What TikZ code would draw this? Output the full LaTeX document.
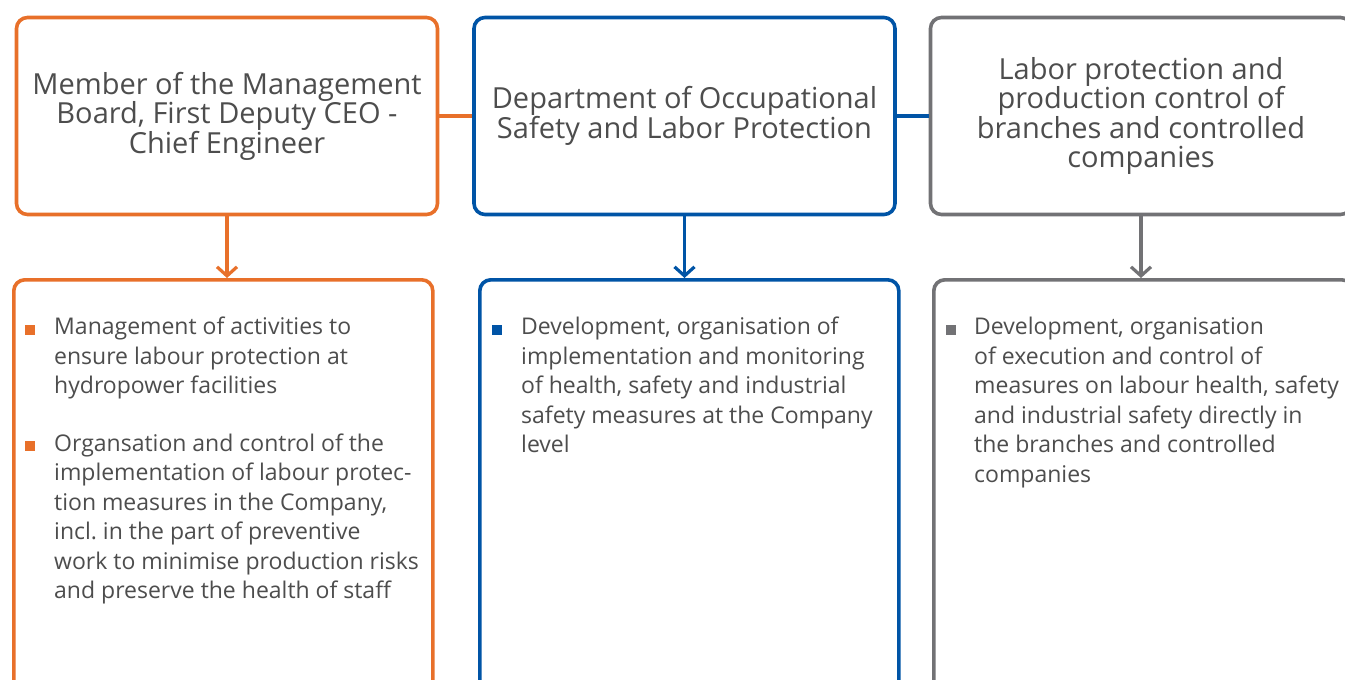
\documentclass[tikz,border=0pt]{standalone}
\usepackage{fontspec}
\setmainfont{Open Sans}
\usetikzlibrary{arrows.meta,positioning,calc}
\definecolor{rhorange}{HTML}{E8702A}
\definecolor{rhblue}{HTML}{0054A6}
\definecolor{rhgray}{HTML}{727275}
\definecolor{rhtext}{HTML}{4D4D4D}
\tikzset{
  % boxes
  head/.style={draw=#1,line width=3.6pt,rounded corners=11pt,fill=white,
               minimum width=421pt,minimum height=197pt,align=center,
               text=rhtext,inner sep=0pt,
               font=\fontsize{29}{29.5}\selectfont},
  list/.style={draw=#1,line width=3.6pt,rounded corners=11pt,fill=white,
               minimum width=419pt,minimum height=430pt,anchor=north west},
  link/.style={draw=#1,line width=3.6pt},
  down/.style={draw=#1,line width=3.6pt,-{Straight Barb[length=9pt,width=20pt,line width=3.2pt]}},
  bul/.style={fill=#1,minimum size=10pt,inner sep=0pt},
  item/.style={anchor=north west,align=left,inner sep=0pt,text=rhtext,
               font=\fontsize{23}{29.5}\selectfont},
}
\begin{document}
\begin{tikzpicture}[x=1pt,y=-1pt]
  \useasboundingbox (0,0) rectangle (1345,680);
  \clip (0,0) rectangle (1345,680);
  % top row
  \node[head=rhorange] (mgmt) at (227,116)
    {Member of the Management\\Board, First Deputy CEO -\\Chief Engineer};
  \node[head=rhblue] (dept) at (684.5,116)
    {Department of Occupational\\Safety and Labor Protection};
  \node[head=rhgray] (branch) at (1141,116)
    {Labor protection and\\production control of\\branches and controlled\\companies};
  % bottom row
  \node[list=rhorange] (mgmtlist) at (12,278) {};
  \node[list=rhblue] (deptlist) at (478,278) {};
  \node[list=rhgray] (branchlist) at (932,278) {};
  % connectors
  \draw[link=rhorange] (mgmt.east) -- (dept.west);
  \draw[link=rhblue] (dept.east) -- (branch.west);
  \draw[down=rhorange] (mgmt.south) -- (mgmt.south |- mgmtlist.north);
  \draw[down=rhblue] (dept.south) -- (dept.south |- deptlist.north);
  \draw[down=rhgray] (branch.south) -- (branch.south |- branchlist.north);
  % items
  \node[bul=rhorange] (b1) at (30,329.5) {};
  \node[item] (t1) at (54,317)
    {Management of activities to\\ensure labour protection at\\hydropower facilities};
  \node[bul=rhorange] (b2) at (30,446) {};
  \node[item] (t2) at (54,433.5)
    {Organsation and control of the\\implementation of labour protec-\\tion measures in the Company,\\incl.\ in the part of preventive\\work to minimise production risks\\and preserve the health of staff};
  \node[bul=rhblue] (b3) at (497,329.5) {};
  \node[item] (t3) at (521,317)
    {Development, organisation of\\implementation and monitoring\\of health, safety and industrial\\safety measures at the Company\\level};
  \node[bul=rhgray] (b4) at (951,329.5) {};
  \node[item] (t4) at (974,317)
    {Development, organisation\\of execution and control of\\measures on labour health, safety\\and industrial safety directly in\\the branches and controlled\\companies};
\end{tikzpicture}
\end{document}
